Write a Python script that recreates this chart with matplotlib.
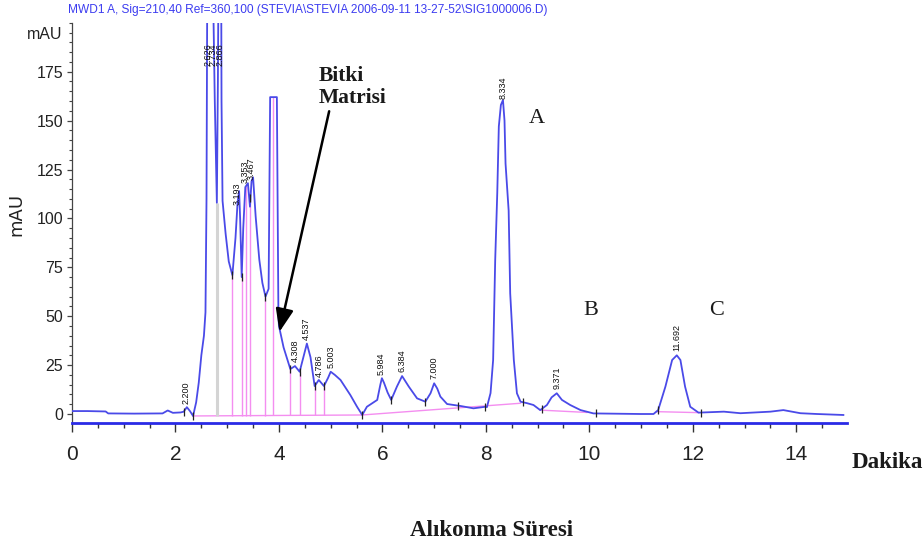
import numpy as np
import matplotlib
matplotlib.use("Agg")
import matplotlib.pyplot as plt
from matplotlib import font_manager
from matplotlib.ticker import MultipleLocator, FixedLocator

# ---- fonts ----
_names = {f.name for f in font_manager.fontManager.ttflist}
NARROW = "Liberation Sans Narrow" if "Liberation Sans Narrow" in _names else "Liberation Sans"
SERIF = "Liberation Serif"

# ---- chromatogram trace (retention time in min, absorbance in mAU) ----
time = [0.00, 0.30, 0.65, 0.70, 1.20, 1.75, 1.85, 1.95, 2.10, 2.16, 2.22, 2.28, 2.34,
        2.40, 2.45, 2.50, 2.55, 2.58, 2.60, 2.62, 2.70, 2.76, 2.80, 2.82, 2.84, 2.88,
        2.89, 2.91, 2.97, 3.03, 3.10, 3.16, 3.20, 3.23, 3.25, 3.28, 3.31, 3.35, 3.40,
        3.44, 3.47, 3.50, 3.55, 3.62, 3.68, 3.74, 3.80, 3.83, 3.96, 3.99, 4.00, 4.09,
        4.22, 4.31, 4.40, 4.50, 4.54, 4.61, 4.69, 4.77, 4.87, 4.95, 5.00, 5.08, 5.19,
        5.38, 5.51, 5.61, 5.70, 5.90, 5.96, 5.99, 6.03, 6.10, 6.17, 6.28, 6.38, 6.51,
        6.67, 6.83, 6.93, 7.00, 7.06, 7.12, 7.25, 7.51, 7.76, 7.99, 8.02, 8.09, 8.14,
        8.18, 8.22, 8.25, 8.29, 8.33, 8.36, 8.38, 8.44, 8.47, 8.54, 8.60, 8.67, 8.80,
        8.92, 9.05, 9.18, 9.27, 9.37, 9.47, 9.63, 9.83, 10.08, 10.99, 11.24, 11.33,
        11.47, 11.60, 11.69, 11.76, 11.85, 11.95, 12.11, 12.60, 12.92, 13.50, 13.75,
        14.08, 14.40, 14.91]
signal = [1.5, 1.5, 1.3, 0.3, 0.2, 0.3, 1.8, 0.6, 0.8, 1.2, 3.5, 1.5, -1.0,
          6.0, 16.0, 30.0, 40.0, 52.0, 110.0, 260.0, 262.0, 160.0, 108.0, 170.0, 262.0, 262.0,
          160.0, 109.0, 92.0, 78.0, 71.0, 90.0, 108.0, 114.0, 100.0, 70.0, 95.0, 116.0, 118.0,
          106.0, 119.0, 121.0, 101.0, 79.0, 67.0, 60.0, 64.0, 162.0, 162.0, 50.0, 45.0, 34.0,
          23.0, 24.5, 21.6, 32.0, 36.0, 29.0, 14.3, 17.4, 14.3, 18.5, 21.6, 20.0, 17.4,
          9.7, 3.7, -0.5, 3.7, 7.2, 15.0, 18.3, 16.0, 11.0, 7.2, 14.0, 19.4, 14.0,
          8.0, 6.3, 10.6, 15.7, 13.0, 8.9, 5.1, 4.1, 2.9, 3.7, 3.5, 10.7, 27.6,
          78.7, 113.0, 147.0, 158.0, 160.5, 150.0, 128.0, 104.0, 61.7, 27.6, 10.6, 6.3, 5.5,
          4.6, 2.0, 4.6, 8.5, 10.6, 7.2, 4.6, 2.0, 0.3, 0.0, 0.0, 2.0,
          14.0, 27.6, 30.0, 27.6, 14.0, 3.7, 0.7, 1.2, 0.4, 1.2, 2.0,
          0.4, 0.0, -0.5]

# ---- peak annotations (retention times) ----
peak_times = [2.200, 2.626, 2.734, 2.866, 3.193, 3.353, 3.467, 4.308, 4.537,
              4.786, 5.003, 5.984, 6.384, 7.000, 8.334, 9.371, 11.692]
peak_labels = ["2.200", "2.626", "2.734", "2.866", "3.193", "3.353", "3.467", "4.308",
               "4.537", "4.786", "5.003", "5.984", "6.384", "7.000", "8.334", "9.371",
               "11.692"]

# ---- integration baseline segments ----
baseline_t = [[2.34, 5.61, 8.67], [9.05, 9.95], [11.30, 12.11]]
baseline_v = [[-1.0, -0.5, 5.5], [2.0, 0.8], [1.2, 0.7]]

# drop lines separating unresolved peaks
drop_times = [3.10, 3.28, 3.37, 3.45, 3.74, 3.89, 4.22, 4.40, 4.69, 4.87]
shoulder_drop = [2.80]
# peak start/end marks
mark_times = [2.16, 2.34, 3.10, 3.28, 3.45, 3.74, 4.22, 4.40, 4.69, 4.87, 5.61, 6.17,
              6.83, 7.47, 7.99, 8.72, 9.09, 10.12, 11.33, 12.15]

x_ticks = [0, 2, 4, 6, 8, 10, 12, 14]
y_ticks = [0, 25, 50, 75, 100, 125, 150, 175]

TRACE = "#4a4ae8"
PINK = "#f48ef0"

fig = plt.figure(figsize=(9.24, 5.47), dpi=100)
ax = fig.add_axes([72 / 924, 124 / 547, 775 / 924, 400.2 / 547])
ax.set_xlim(0, 14.98)
ax.set_ylim(-4.6, 200)


def base_at(t):
    for bt, bv in zip(baseline_t, baseline_v):
        if bt[0] <= t <= bt[-1]:
            return np.interp(t, bt, bv)
    return 0.0


# baseline
for bt, bv in zip(baseline_t, baseline_v):
    ax.plot(bt, bv, color=PINK, lw=1.0, zorder=2)

# drop lines
for t in drop_times:
    ax.vlines(t, base_at(t), np.interp(t, time, signal), color=PINK, lw=1.0, zorder=2)
for t in shoulder_drop:
    ax.vlines(t, base_at(t), np.interp(t, time, signal), color="#d4d4d4", lw=2.2, zorder=2)

# trace
ax.plot(time, signal, color=TRACE, lw=1.3, zorder=3, solid_joinstyle="round")

# peak start/end marks
ax.plot(mark_times, np.interp(mark_times, time, signal), ls="none", marker="|",
        ms=6, mew=0.9, color="#222222", zorder=4)

# retention time labels above apexes
for t, lab in zip(peak_times, peak_labels):
    y = min(np.interp(t, time, signal), 176)
    ax.annotate(lab, (t, y), xytext=(0, 3), textcoords="offset points",
                rotation=90, ha="center", va="bottom", fontsize=6.5,
                family=NARROW, color="#111111", zorder=5)

# axes styling
for side in ("top", "right"):
    ax.spines[side].set_visible(False)
ax.spines["bottom"].set_color("#2a2ae6")
ax.spines["bottom"].set_linewidth(2.0)
ax.spines["left"].set_color("#444444")
ax.spines["left"].set_linewidth(0.9)

ax.xaxis.set_major_locator(FixedLocator(x_ticks))
ax.xaxis.set_minor_locator(MultipleLocator(0.5))
ax.yaxis.set_major_locator(FixedLocator(y_ticks))
ax.yaxis.set_minor_locator(MultipleLocator(5))
ax.tick_params(axis="x", which="major", length=6.5, width=1.0, color="#333333",
               pad=9, labelsize=15)
ax.tick_params(axis="x", which="minor", length=3.6, width=1.0, color="#333333")
ax.tick_params(axis="y", which="major", length=3.5, width=0.9, color="#444444",
               pad=3, labelsize=11.5)
ax.tick_params(axis="y", which="minor", length=2, width=0.8, color="#444444")
for lab in ax.get_xticklabels() + ax.get_yticklabels():
    lab.set_family(NARROW)
    lab.set_color("#222222")

ax.text(-0.012, 194, "mAU", transform=ax.get_yaxis_transform(), ha="right",
        va="center", fontsize=11.5, family=NARROW, color="#222222")

# signal header
fig.text(68 / 924, 1 - 10 / 547,
         "MWD1 A, Sig=210,40 Ref=360,100 (STEVIA\\STEVIA 2006-09-11 13-27-52\\SIG1000006.D)",
         ha="left", va="center", fontsize=8.6, family=NARROW, color="#3c3cf0")

# axis titles
fig.text(16 / 924, 1 - 214 / 547, "mAU", rotation=90, ha="center", va="center",
         fontsize=13, family="DejaVu Sans", color="#222222")
fig.text(887 / 924, 1 - 462 / 547, "Dakika", ha="center", va="center",
         fontsize=16.5, family=SERIF, weight="bold", color="#1a1a1a")
fig.text(491 / 924, 1 - 530 / 547, "Alıkonma Süresi", ha="center", va="center",
         fontsize=16.5, family=SERIF, weight="bold", color="#1a1a1a")

# annotations
ax.annotate("Bitki\nMatrisi", xy=(4.01, 42), xytext=(4.76, 167),
            ha="left", va="center", fontsize=15.5, family=SERIF, weight="bold",
            color="#1a1a1a", linespacing=1.15,
            arrowprops=dict(arrowstyle="-|>,head_length=0.9,head_width=0.35",
                            color="black", lw=1.8, shrinkA=0, shrinkB=0,
                            relpos=(0.17, 0.0)))
for lab, t, v in (("A", 8.98, 151), ("B", 10.02, 52.7), ("C", 12.45, 52.7)):
    ax.text(t, v, lab, ha="center", va="center", fontsize=16, family=SERIF,
            color="#1a1a1a")

fig.savefig("out.png", dpi=100)
